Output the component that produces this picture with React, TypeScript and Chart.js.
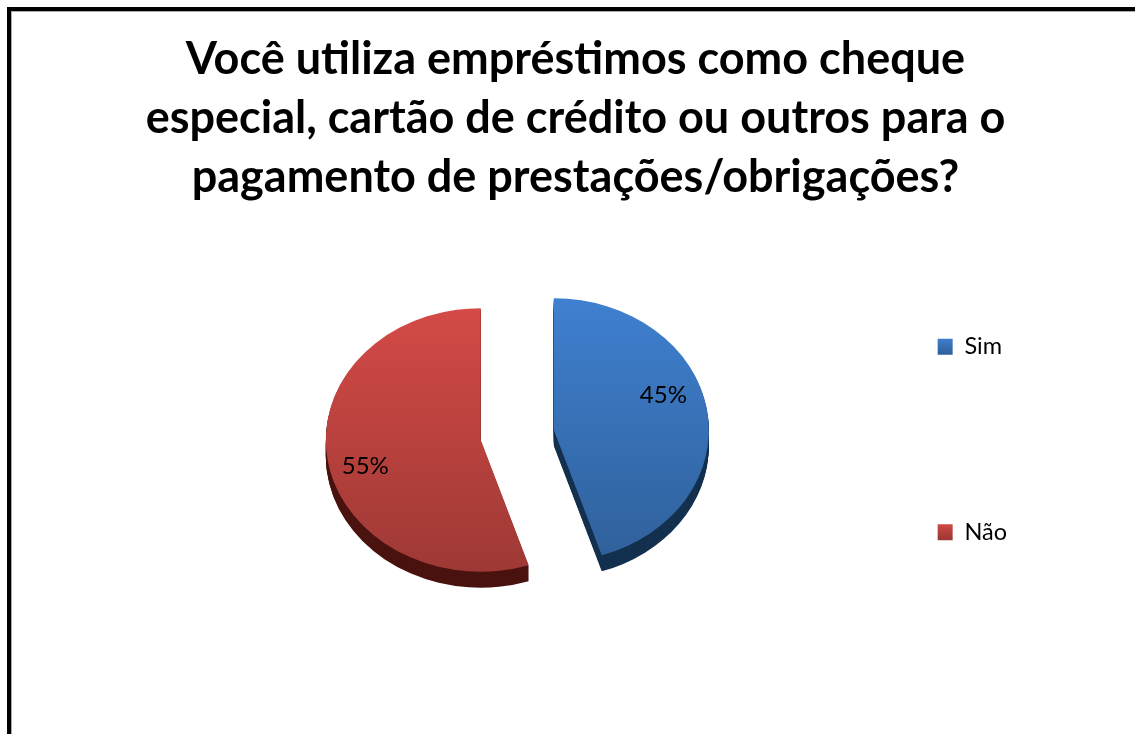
import React, { useEffect, useRef } from "react";
import { Chart, registerables } from "chart.js";

Chart.register(...registerables);

const categories = ["Sim", "Não"];
const values = [45, 55];
const titleLines = [
  "Você utiliza empréstimos como cheque",
  "especial, cartão de crédito ou outros para o",
  "pagamento de prestações/obrigações?",
];
const topColors = ["#3F80D0", "#D44A46"];
const bottomColors = ["#2F5F98", "#9C3835"];
const sideColors = ["#14304F", "#4A130F"];

const SQUASH = 0.85;
const DEPTH = 16;
const EXPLODE = 37;
const LABEL_TURN = -0.15;
const LABEL_RADIUS = 118;
const FONT = "Lato, Carlito, sans-serif";

const tiltPlugin = {
  id: "tilt",
  afterLayout(chart: any) {
    chart.titleBlock.left = 0;
    chart.titleBlock.right = 1151;
    chart.legend.left += 1;
    chart.legend.right += 1;
    chart.legend.top += 116;
    chart.legend.bottom += 116;
  },
  beforeDatasetDraw(chart: any) {
    const ctx = chart.ctx;
    const arcs = chart.getDatasetMeta(0).data;
    const cy = arcs[0].y;
    // extruded side of each exploded slice
    arcs.forEach((arc: any, i: number) => {
      const mid = (arc.startAngle + arc.endAngle) / 2;
      const x = arc.x + Math.cos(mid) * EXPLODE;
      const y = arc.y + Math.sin(mid) * EXPLODE;
      ctx.fillStyle = sideColors[i];
      for (let d = DEPTH; d >= 1; d--) {
        ctx.save();
        ctx.translate(0, cy + d);
        ctx.scale(1, SQUASH);
        ctx.translate(0, -cy);
        ctx.beginPath();
        ctx.moveTo(x, y);
        ctx.arc(x, y, arc.outerRadius, arc.startAngle, arc.endAngle);
        ctx.closePath();
        ctx.fill();
        ctx.restore();
      }
    });
    // top face: the library's own arc elements, moved out and tilted
    arcs.forEach((arc: any) => {
      const mid = (arc.startAngle + arc.endAngle) / 2;
      ctx.save();
      ctx.translate(0, cy);
      ctx.scale(1, SQUASH);
      ctx.translate(0, -cy);
      ctx.translate(Math.cos(mid) * EXPLODE, Math.sin(mid) * EXPLODE);
      arc.draw(ctx);
      ctx.restore();
    });
    return false;
  },
  afterDatasetsDraw(chart: any) {
    const ctx = chart.ctx;
    const arcs = chart.getDatasetMeta(0).data;
    const cy = arcs[0].y;
    ctx.save();
    ctx.fillStyle = "#000";
    ctx.font = `24px ${FONT}`;
    ctx.textAlign = "center";
    ctx.textBaseline = "middle";
    arcs.forEach((arc: any, i: number) => {
      const mid = (arc.startAngle + arc.endAngle) / 2;
      const a = mid + LABEL_TURN;
      const x = arc.x + Math.cos(mid) * EXPLODE + Math.cos(a) * LABEL_RADIUS - 3;
      const y = cy + (Math.sin(mid) * EXPLODE + Math.sin(a) * LABEL_RADIUS) * SQUASH - 4;
      ctx.fillText(`${values[i]}%`, x, y);
    });
    ctx.restore();
  },
};

export default function App() {
  const ref = useRef<HTMLCanvasElement>(null);
  useEffect(() => {
    const canvas = ref.current!;
    const ctx = canvas.getContext("2d")!;
    const fill = (i: number, y0: number, y1: number) => {
      const g = ctx.createLinearGradient(0, y0, 0, y1);
      g.addColorStop(0, topColors[i]);
      g.addColorStop(1, bottomColors[i]);
      return g;
    };
    const chart = new Chart(canvas, {
      type: "pie",
      data: {
        labels: categories,
        datasets: [
          {
            data: values,
            backgroundColor: categories.map((_, i) => fill(i, 280, 600)),
            borderWidth: 0,
            radius: 155,
          } as any,
        ],
      },
      options: {
        responsive: false,
        animation: false,
        layout: { padding: { left: 260, right: 119, top: 0, bottom: 87 } },
        plugins: {
          tooltip: { enabled: false },
          title: {
            display: true,
            text: titleLines,
            color: "#000",
            font: { family: FONT, size: 45, weight: "bold", lineHeight: 1.311 },
            padding: { top: 30, bottom: 16 },
          },
          legend: {
            position: "right",
            labels: {
              color: "#000",
              font: { family: FONT, size: 23.5 },
              boxWidth: 15,
              boxHeight: 16,
              padding: 162,
              generateLabels: () =>
                categories.map((c, i) => ({
                  text: c,
                  fillStyle: fill(i, i === 0 ? 338 : 523, i === 0 ? 354 : 539),
                  strokeStyle: "rgba(0,0,0,0)",
                  lineWidth: 0,
                  index: i,
                })),
            },
          },
        },
      },
      plugins: [tiltPlugin],
    } as any);
    return () => chart.destroy();
  }, []);
  return (
    <div style={{ position: "fixed", left: 0, top: 0, width: 1135, height: 734, background: "#fff", overflow: "hidden" }}>
      <canvas ref={ref} width={1135} height={734} style={{ display: "block" }} />
      <div
        style={{
          position: "absolute",
          left: 7,
          top: 7,
          width: 1135,
          height: 800,
          border: "4px solid #000",
          boxSizing: "border-box",
          boxShadow: "inset 1px 1px 0 #aaa",
        }}
      />
    </div>
  );
}
